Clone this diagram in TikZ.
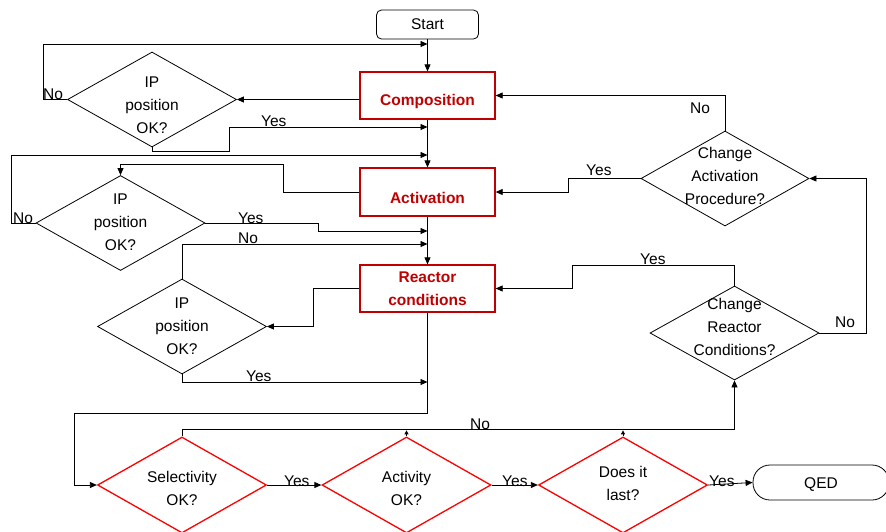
\documentclass[tikz,border=0pt]{standalone}
\usepackage{fontspec}
\setmainfont{Liberation Sans}
\usetikzlibrary{shapes.geometric,arrows.meta}
\definecolor{boxred}{HTML}{C00000}
\definecolor{diared}{HTML}{FF0000}
\begin{document}
\begin{tikzpicture}[x=1pt,y=-1pt,
  font=\fontsize{15.5}{23}\selectfont,
  line/.style={draw=black,line width=0.8pt},
  arr/.style={line,-{Triangle[length=7pt,width=6pt]}},
  smallarr/.style={line,-{Triangle[length=4pt,width=4pt]}},
  dia/.style={shape=diamond,draw=black,line width=0.8pt,minimum width=169pt,minimum height=95pt,inner sep=0pt},
  rdia/.style={dia,draw=diared,line width=1.3pt},
  box/.style={draw=boxred,line width=1.3pt,minimum width=135pt,minimum height=47pt,inner sep=0pt},
  boxtxt/.style={text=boxred,font=\fontsize{15.5}{23}\selectfont\bfseries,align=center,inner sep=0pt},
  dtxt/.style={align=center,inner sep=0pt},
  lab/.style={anchor=base west,inner sep=0pt}]
\useasboundingbox (0,0) rectangle (886,531);
\fill[white] (0,0) rectangle (886,531);
\clip (0,0) rectangle (886,531);

% main boxes
\node[draw=black,line width=0.8pt,rounded corners=5pt,minimum width=102pt,minimum height=29pt,inner sep=0pt] (start) at (427.5,24.5) {Start};
\node[box] (comp) at (427.5,95.5) {};
\node[boxtxt] (compt) at (427.5,101.5) {Composition};
\node[box,minimum height=48pt] (act) at (427.5,192) {};
\node[boxtxt] (actt) at (427.5,198) {Activation};
\node[box] (reac) at (427.5,288.5) {};
\node[boxtxt] (react) at (427.5,288.5) {Reactor\\conditions};

% IP diamonds
\node[dia] (d1) at (152,99.5) {};
\node[dtxt] (d1t) at (152,105) {IP\\position\\OK?};
\node[dia] (d2) at (120.5,223) {};
\node[dtxt] (d2t) at (120.5,222) {IP\\position\\OK?};
\node[dia] (d3) at (182,326.5) {};
\node[dtxt] (d3t) at (182,326) {IP\\position\\OK?};

% change diamonds
\node[dia,minimum width=168pt] (ca) at (725,178.5) {};
\node[dtxt] (cat) at (725,176) {Change\\Activation\\Procedure?};
\node[dia,minimum height=94pt] (cr) at (734.5,333) {};
\node[dtxt] (crt) at (734.5,326.5) {Change\\Reactor\\Conditions?};

% bottom red diamonds
\node[rdia,minimum height=96pt] (sel) at (182,485) {};
\node[dtxt] (selt) at (182,488) {Selectivity\\OK?};
\node[rdia,minimum height=96pt] (actv) at (406.5,485) {};
\node[dtxt] (actvt) at (406.5,488) {Activity\\OK?};
\node[rdia,minimum height=96pt] (last) at (623,485) {};
\node[dtxt] (lastt) at (623,483.5) {Does it\\last?};
\node[draw=black,line width=0.8pt,rounded corners=17pt,minimum width=136pt,minimum height=35pt,inner sep=0pt] (qed) at (821,482.5) {};
\node[inner sep=0pt] (qedt) at (821,485) {QED};

% entry points on the main column
\coordinate (inA) at (427.5,44);
\coordinate (inB) at (427.5,127);
\coordinate (inC) at (427.5,155);
\coordinate (inD) at (427.5,231);
\coordinate (inE) at (427.5,244);
\coordinate (inF) at (427.5,382);

% main column
\draw[arr] (start.south) -- (comp.north);
\draw[arr] (comp.south) -- (act.north);
\draw[arr] (act.south) -- (reac.north);
\draw[arr] (reac.south) |- (74,413) |- (sel.west);

% diamond 1
\draw[arr] (comp.west |- d1.east) -- (d1.east);
\draw[arr] (d1.west) -- ++(-24,0) |- (inA);
\draw[arr] (d1.south) |- (229,151) |- (inB);

% diamond 2
\draw[arr] (act.west) -| (283,164) -| (d2.north);
\draw[arr] (d2.west) -- ++(-24.5,0) |- (inC);
\draw[arr] (d2.east) -| (318,231) -- (inD);

% diamond 3
\draw[arr] (reac.west) -- ++(-46,0) |- (d3.east);
\draw[arr] (d3.north) |- (inE);
\draw[arr] (d3.south) |- (inF);

% bottom row
\draw[arr] (sel.east) -- (actv.west);
\draw[arr] (actv.east) -- (last.west);
\draw[arr] (last.east) -- (qed.west);
\draw[arr] (sel.north) -- ++(0,-7) -| (cr.south);
\draw[smallarr] (actv.north) -- ++(0,-6);
\draw[smallarr] (last.north) -- ++(0,-6);

% change diamonds
\draw[arr] (cr.north) |- (572,265) |- (reac.east);
\draw[arr] (cr.east) -- ++(47,0) |- (ca.east);
\draw[arr] (ca.north) |- (comp.east);
\draw[arr] (ca.west) -- ++(-72,0) |- (act.east);

% labels
\node[lab] (l1) at (43,99) {No};
\node[lab] (l2) at (261,126) {Yes};
\node[lab] (l3) at (13,223) {No};
\node[lab] (l4) at (238,223) {Yes};
\node[lab] (l5) at (238,243) {No};
\node[lab] (l6) at (246,381) {Yes};
\node[lab] (l7) at (690,113) {No};
\node[lab] (l8) at (586,175) {Yes};
\node[lab] (l9) at (640,264) {Yes};
\node[lab] (l10) at (835,327) {No};
\node[lab] (l11) at (470,429) {No};
\node[lab] (l12) at (284,486) {Yes};
\node[lab] (l13) at (502,486) {Yes};
\node[lab] (l14) at (709,486) {Yes};
\end{tikzpicture}
\end{document}
